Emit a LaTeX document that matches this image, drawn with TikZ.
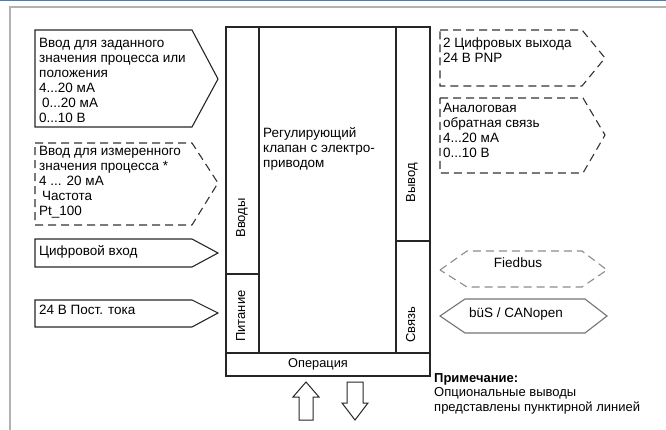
\documentclass[tikz,border=0pt]{standalone}
\usepackage{fontspec}
\setmainfont{Liberation Sans}
\begin{document}
\begin{tikzpicture}[x=1pt,y=-1pt,
  outl/.style={draw=black!85,line width=1.1pt},
  dsh/.style={draw=black!80,line width=1.1pt,dash pattern=on 8pt off 5pt},
  gdsh/.style={draw=black!45,line width=1.1pt,dash pattern=on 8pt off 5pt},
  gsol/.style={draw=black!55,line width=1.1pt},
  txt/.style={inner sep=0pt,anchor=base west,align=left,font=\fontsize{13.5}{15}\selectfont},
  ctxt/.style={inner sep=0pt,anchor=base,font=\fontsize{13.5}{15}\selectfont},
  rtxt/.style={inner sep=0pt,anchor=base,rotate=90,font=\fontsize{13}{15}\selectfont}]
\useasboundingbox (0,0) rectangle (666,430);
% frame
\draw[draw={rgb,255:red,74;green,126;blue,187},line width=1.5pt] (0,0.75) -- (666,0.75);
\draw[draw=black!30,line width=1.6pt] (666,7) -- (10,7) -- (10,430);
% main box
\draw[outl] (226,27) rectangle (430,376);
\draw[outl] (259,27) -- (259,353);
\draw[outl] (396,27) -- (396,353);
\draw[outl] (226,353) -- (430,353);
\draw[outl] (226,274) -- (259,274);
\draw[outl] (396,241) -- (430,241);
\node[txt] (valve) at (263,168) {Регулирующий\\клапан с электро-\\приводом};
\node[rtxt] (inputs) at (245,218) {Вводы};
\node[rtxt] (power) at (245,316) {Питание};
\node[rtxt] (outputs) at (415,183) {Вывод};
\node[rtxt] (comm) at (415,325) {Связь};
\node[ctxt,font=\fontsize{12.8}{15}\selectfont] (oper) at (318,367) {Операция};
% left shapes
\draw[outl] (35,30) -- (192,30) -- (218,79) -- (192,127) -- (35,127) -- cycle;
\node[txt] (in1) at (39,123) {Ввод для заданного\\значения процесса или\\положения\\4...20 мА\\\hspace{3pt}0...20 мА\\0...10 В};
\draw[dsh] (35,143) -- (192,143) -- (218,183) -- (192,225) -- (35,225) -- cycle;
\node[txt] (in2) at (39,216) {Ввод для измеренного\\значения процесса *\\4 ... 20 мА\\\hspace{3pt}Частота\\Pt\_100};
\draw[outl] (35,239) -- (192,239) -- (218,253) -- (192,267) -- (35,267) -- cycle;
\node[txt] (in3) at (39,255) {Цифровой вход};
\draw[outl] (35,300) -- (192,300) -- (218,313) -- (192,327) -- (35,327) -- cycle;
\node[txt] (in4) at (39,314) {24 В Пост. тока};
% right shapes
\draw[dsh] (440,30) -- (582,30) -- (605,58) -- (582,86) -- (440,86) -- cycle;
\node[txt] (out1) at (443,63) {2 Цифровых выхода\\24 В PNP};
\draw[dsh] (440,98) -- (583,98) -- (605,135) -- (583,173) -- (440,173) -- cycle;
\node[txt] (out2) at (443,158) {Аналоговая\\обратная связь\\4...20 мА\\0...10 В};
\draw[gdsh] (440,270) -- (467,251) -- (582,251) -- (607,270) -- (582,287) -- (467,287) -- cycle;
\node[ctxt] (fb) at (518,268) {Fiedbus};
\draw[gsol] (440,316) -- (465,299) -- (585,299) -- (607,316) -- (585,333) -- (465,333) -- cycle;
\node[ctxt] (bus) at (516,317) {büS / CANopen};
% arrows
\draw[outl,line width=1pt] (306,382) -- (319,397) -- (313,397) -- (313,420) -- (299,420) -- (299,397) -- (293,397) -- cycle;
\draw[outl,line width=1pt] (347,382) -- (363,382) -- (363,403) -- (368,403) -- (355,420) -- (342,403) -- (347,403) -- cycle;
% note
\node[txt,font=\fontsize{13}{14.5}\selectfont] (note) at (434,411) {\textbf{Примечание:}\\Опциональные выводы\\представлены пунктирной линией};
\end{tikzpicture}
\end{document}
